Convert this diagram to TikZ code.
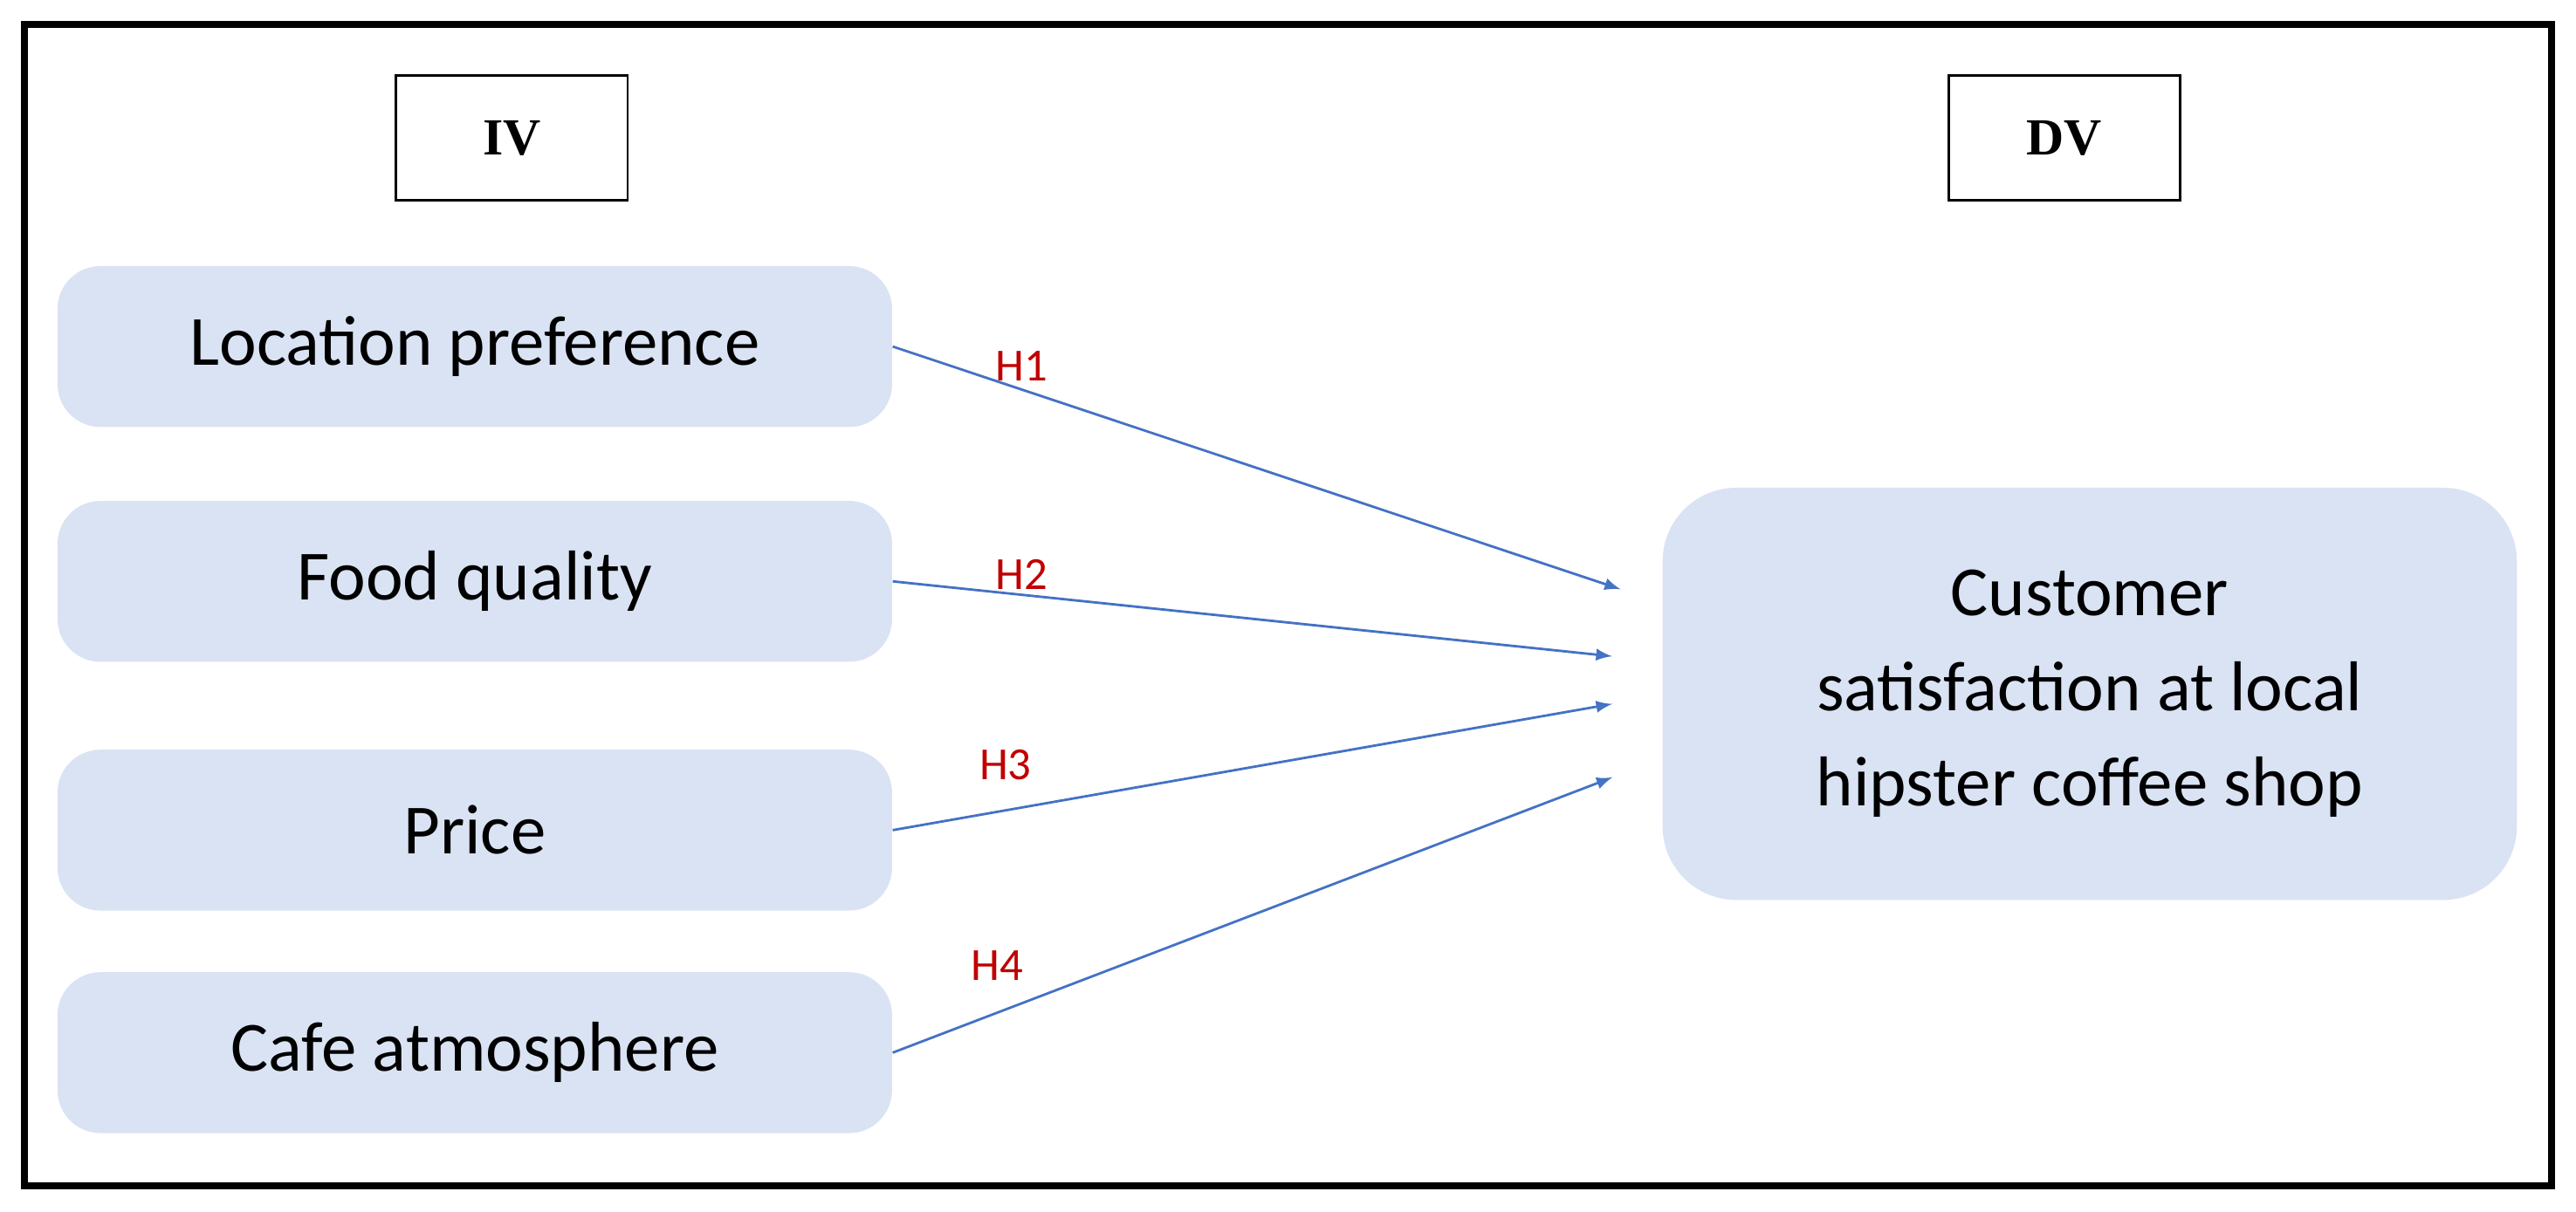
\documentclass[tikz,border=0pt]{standalone}
\usepackage{fontspec}
\setmainfont{Carlito}
\newfontfamily\timesf{Liberation Serif}
\definecolor{boxblue}{HTML}{DAE3F3}
\definecolor{arrblue}{HTML}{4472C4}
\definecolor{hred}{HTML}{C00000}
\begin{document}
\begin{tikzpicture}[x=0.01882cm, y=-0.01882cm,
  var/.style = {fill=boxblue, rounded corners=14pt, minimum width=508*0.01882cm, minimum height=98*0.01882cm, font=\fontsize{23}{27}\selectfont},
  tag/.style = {draw, thick, minimum width=141*0.01882cm, minimum height=76*0.01882cm, font=\timesf\bfseries\fontsize{17}{20}\selectfont},
  hyp/.style = {->, >=latex, thick, arrblue, shorten >=2pt},
  hlab/.style = {text=hred, font=\fontsize{15}{18}\selectfont}]
\useasboundingbox (0,0) rectangle (1568,737.5);
\draw[line width=2.2pt] (15,15) rectangle (1553,722);

%% labels on top
\node[tag] (iv) at (311.5,84) {IV};
\node[tag] (dv) at (1256.5,84) {DV};

%% independent variables
\node[var] (loc) at (289,211) {Location preference};
\node[var] (food) at (289,354) {Food quality};
\node[var] (price) at (289,505.5) {Price};
\node[var] (cafe) at (289,641) {Cafe atmosphere};

%% dependent variable
\node[var, minimum width=520*0.01882cm, minimum height=251*0.01882cm, rounded corners=24pt, align=center, font=\fontsize{23}{31}\selectfont] (cust) at (1272,422.5)
  {Customer\\satisfaction at local\\hipster coffee shop};

\coordinate (e1) at (990,360);
\coordinate (e2) at (985,400);
\coordinate (e3) at (985,428);
\coordinate (e4) at (985,472);

\draw[hyp] (loc.east) -- (e1);
\draw[hyp] (food.east) -- (e2);
\draw[hyp] (price.east) -- (e3);
\draw[hyp] (cafe.east) -- (e4);

\node[hlab] (h1) at (622,223) {H1};
\node[hlab] (h2) at (622,350) {H2};
\node[hlab] (h3) at (612,466) {H3};
\node[hlab] (h4) at (607,588) {H4};
\end{tikzpicture}
\end{document}
